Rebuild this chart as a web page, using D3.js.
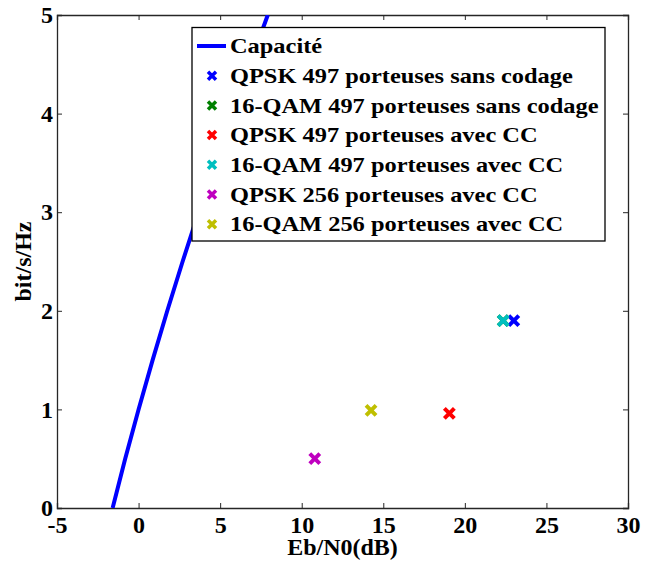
<!DOCTYPE html>
<html><head><meta charset="utf-8">
<script src="https://cdn.jsdelivr.net/npm/d3@7"></script>
<style>body{margin:0;background:#fff}svg{display:block}text{font-family:"Liberation Serif","Times New Roman",serif;font-weight:bold}</style>
</head><body><svg id="c" width="645" height="563"></svg>
<script>
// Capacity curve (spectral efficiency vs Eb/N0 in dB)
const capEta  = [0, 0.5, 1, 1.5, 2, 2.5, 3, 3.5, 4, 4.5, 5];
const capEbN0 = [-1.59, -0.82, 0, 0.86, 1.76, 2.70, 3.68, 4.69, 5.74, 6.82, 7.92];
// Scatter series
const seriesNames = ["QPSK 497 porteuses sans codage","16-QAM 497 porteuses sans codage","QPSK 497 porteuses avec CC","16-QAM 497 porteuses avec CC","QPSK 256 porteuses avec CC","16-QAM 256 porteuses avec CC"];
const seriesX = [23.0, 22.35, 19.05, 22.35, 10.8, 14.25];
const seriesY = [1.9, 1.9, 0.96, 1.9, 0.5, 0.99];
const seriesColors = ["#0000ff","#008000","#ff0000","#00bfbf","#bf00bf","#bfbf00"];
const capName = "Capacité";
const xTicks = [-5,0,5,10,15,20,25,30];
const yTicks = [0,1,2,3,4,5];

const svg = d3.select("#c");
const L=57, R=628, T=15, B=508;
const x = d3.scaleLinear().domain([-5,30]).range([L,R]);
const y = d3.scaleLinear().domain([0,5]).range([B,T]);

svg.append("clipPath").attr("id","cp").append("rect").attr("x",L).attr("y",T).attr("width",R-L).attr("height",B-T);

const fs = 24;
const fmt = d => String(d);
const ax = svg.append("g");
ax.append("g").attr("transform",`translate(0,${B})`).call(d3.axisBottom(x).tickValues(xTicks).tickSize(-5).tickPadding(8).tickFormat(fmt));
ax.append("g").attr("transform",`translate(0,${T})`).call(d3.axisTop(x).tickValues(xTicks).tickSize(-5).tickFormat(""));
ax.append("g").attr("transform",`translate(${L},0)`).call(d3.axisLeft(y).tickValues(yTicks).tickSize(-5).tickPadding(4).tickFormat(fmt));
ax.append("g").attr("transform",`translate(${R},0)`).call(d3.axisRight(y).tickValues(yTicks).tickSize(-5).tickFormat(""));
ax.selectAll(".domain").attr("stroke","#262626").attr("stroke-width",1.3);
ax.selectAll(".tick line").attr("stroke","#262626");
ax.selectAll(".tick text").attr("font-size",fs).attr("fill","#000");

// capacity line
const capData = capEta.map((e,i)=>({x:capEbN0[i],y:e}));
svg.append("path").datum(capData).attr("clip-path","url(#cp)")
  .attr("d",d3.line().x(d=>x(d.x)).y(d=>y(d.y)).curve(d3.curveMonotoneY))
  .attr("fill","none").attr("stroke","#0000ff").attr("stroke-width",4);

function cross(g,cx,cy,col,s,w){
  g.append("path").attr("d",`M${cx-s},${cy-s}L${cx+s},${cy+s}M${cx-s},${cy+s}L${cx+s},${cy-s}`)
   .attr("stroke",col).attr("stroke-width",w).attr("fill","none");
}
const pts = svg.append("g");
seriesX.forEach((v,i)=>cross(pts,x(v),y(seriesY[i]),seriesColors[i],5,4));

// legend
const lg = svg.append("g");
lg.append("rect").attr("x",192).attr("y",27.5).attr("width",413).attr("height",213.5).attr("fill","#fff").attr("stroke","#000").attr("stroke-width",1.3);
const rowY = i=>46+i*29.7;
lg.append("line").attr("x1",197).attr("x2",226).attr("y1",rowY(0)).attr("y2",rowY(0)).attr("stroke","#0000ff").attr("stroke-width",4);
const labels = [capName].concat(seriesNames);
const texts = labels.map((n,i)=>lg.append("text").attr("x",230).attr("y",rowY(i)).attr("dy","0.33em").attr("font-size",22).text(n));
seriesNames.forEach((n,i)=>cross(lg,212,rowY(i+1),seriesColors[i],4,3.5));
// fit legend text width to the reference box
const w0 = texts[1].node().getComputedTextLength();
const sx = 343 / w0;
texts.forEach(t=>t.attr("transform",`translate(230,0) scale(${sx},1) translate(-230,0)`));

// axis titles
svg.append("text").attr("x",(L+R)/2).attr("y",555).attr("text-anchor","middle").attr("font-size",24).text("Eb/N0(dB)");
svg.append("text").attr("transform",`translate(31,${(T+B)/2}) rotate(-90)`).attr("text-anchor","middle").attr("font-size",24).text("bit/s/Hz");
</script></body></html>
